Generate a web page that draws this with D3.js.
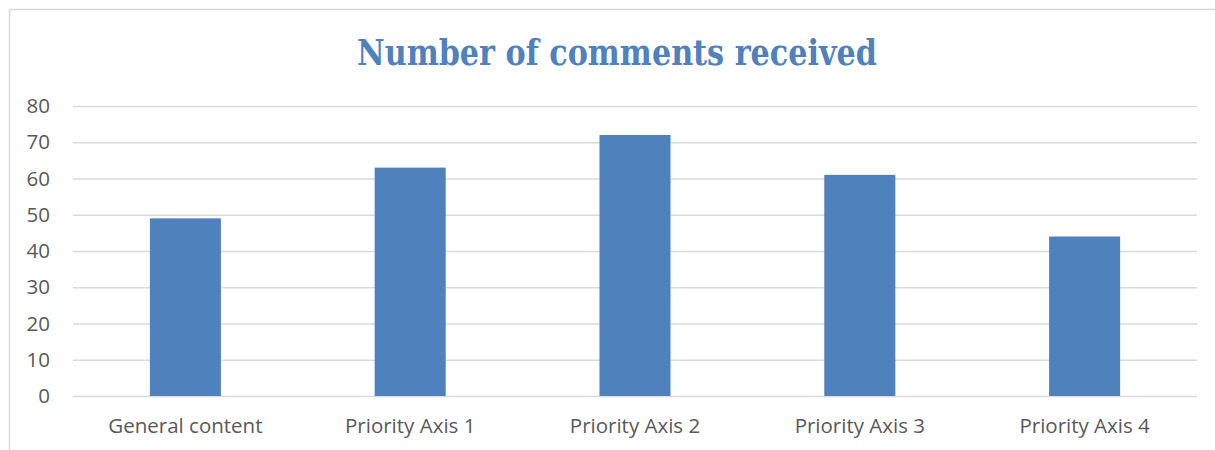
<!DOCTYPE html>
<html>
<head>
<meta charset="utf-8">
<script src="https://cdn.jsdelivr.net/npm/d3@7"></script>
<style>
  body { margin: 0; background: #fff; }
</style>
</head>
<body>
<div id="chart"></div>
<script>
// data
const categories = ["General content", "Priority Axis 1", "Priority Axis 2", "Priority Axis 3", "Priority Axis 4"];
const comments = [49, 63, 72, 61, 44];
const yTicks = [0, 10, 20, 30, 40, 50, 60, 70, 80];

const W = 1215, H = 450;
const margin = {top: 106, right: 18, bottom: 54, left: 73},
  width = W - margin.left - margin.right,
  height = H - margin.top - margin.bottom;

const svg = d3.select("#chart")
  .append("svg")
  .attr("width", W)
  .attr("height", H);

// chart frame (only top and left edges show in the crop)
svg.append("line")
  .attr("x1", 9.5).attr("x2", W).attr("y1", 9.5).attr("y2", 9.5)
  .attr("stroke", "#d9d9d9").attr("stroke-width", 1.5);
svg.append("line")
  .attr("x1", 9.5).attr("x2", 9.5).attr("y1", 9.5).attr("y2", H)
  .attr("stroke", "#d9d9d9").attr("stroke-width", 1.5);

// title
svg.append("text")
  .attr("x", 617)
  .attr("y", 65)
  .attr("text-anchor", "middle")
  .style("font-family", "'DejaVu Serif', serif")
  .style("font-weight", "bold")
  .style("font-size", "35px")
  .attr("textLength", 520)
  .attr("lengthAdjust", "spacingAndGlyphs")
  .attr("fill", "#4f81bd")
  .text("Number of comments received");

const g = svg.append("g")
  .attr("transform", `translate(${margin.left},${margin.top})`);

const x = d3.scaleBand()
  .domain(categories)
  .range([0, width])
  .paddingInner(0.684)
  .paddingOuter(0.342);

const y = d3.scaleLinear()
  .domain([0, 80])
  .range([height, 0]);

// gridlines
g.append("g")
  .call(d3.axisLeft(y).tickValues(yTicks).tickSize(-width).tickFormat(""))
  .call(a => a.select(".domain").remove())
  .selectAll("line")
  .attr("stroke", "#d9d9d9")
  .attr("stroke-width", 1.5);

// y labels
g.append("g")
  .call(d3.axisLeft(y).tickValues(yTicks).tickSize(0).tickPadding(23))
  .call(a => a.select(".domain").remove())
  .selectAll("text")
  .style("font-family", "'Open Sans', sans-serif")
  .style("font-size", "20.5px")
  .attr("fill", "#595959");

// bars
g.selectAll("rect.bar")
  .data(comments)
  .join("rect")
  .attr("class", "bar")
  .attr("x", (d, i) => x(categories[i]))
  .attr("y", d => y(d))
  .attr("width", x.bandwidth())
  .attr("height", d => height - y(d))
  .attr("fill", "#4f81bd");

// x axis labels
g.append("g")
  .attr("transform", `translate(0,${height})`)
  .call(d3.axisBottom(x).tickSize(0).tickPadding(22))
  .call(a => a.select(".domain").remove())
  .selectAll("text")
  .style("font-family", "'Open Sans', sans-serif")
  .style("font-size", "20.5px")
  .attr("fill", "#595959");
</script>
</body>
</html>
